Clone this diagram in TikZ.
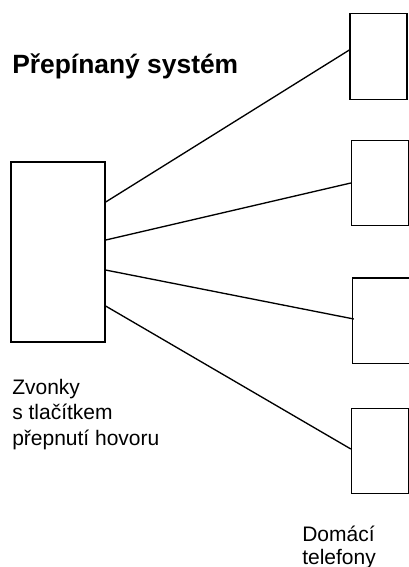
\documentclass[tikz,border=0pt]{standalone}
\usepackage{fontspec}
\setmainfont{Liberation Sans}
\usetikzlibrary{positioning, calc}

\begin{document}
\begin{tikzpicture}[
        x=0.75pt, y=-0.75pt,
        box/.style={rectangle, draw=black, line width=1pt, minimum width=70.5pt, minimum height=135pt, inner sep=0pt},
        phone/.style={rectangle, draw=black, line width=1pt, minimum width=42.75pt, minimum height=64pt, inner sep=0pt},
        label/.style={inner sep=0pt, align=left, font=\fontsize{15.75pt}{19pt}\selectfont},
        wire/.style={line width=1pt, black}
    ]
        \useasboundingbox (0,0) rectangle (409,567);
        % Nodes
        \node[inner sep=0pt, anchor=base west, font=\fontsize{19.8pt}{23pt}\selectfont\bfseries] (title) at (12,74) {Přepínaný systém};
        \node[box] (bell) at (58,252) {};
        \node[phone] (phoneA) at (378.5,56.5) {};
        \node[phone] (phoneB) at (380,183) {};
        \node[phone] (phoneC) at (381,320.5) {};
        \node[phone] (phoneD) at (380,451) {};
        \node[label, anchor=base west] (bellText) at (12,445) {Zvonky\\s tlačítkem\\přepnutí hovoru};
        \node[label, anchor=base west, font=\fontsize{15.75pt}{16.8pt}\selectfont] (phoneText) at (302,564) {Domácí\\telefony};

        % Lines
        \draw[wire] ($(bell.north east)+(0,40.7)$) -- ($(phoneA.west)+(0,-6.5)$);
        \draw[wire] ($(bell.north east)+(0,78.7)$) -- (phoneB.west);
        \draw[wire] ($(bell.north east)+(0,108.7)$) -- ($(phoneC.west)+(2,-1.5)$);
        \draw[wire] ($(bell.north east)+(0,144.7)$) -- ($(phoneD.west)+(0,-2)$);
\end{tikzpicture}
\end{document}
